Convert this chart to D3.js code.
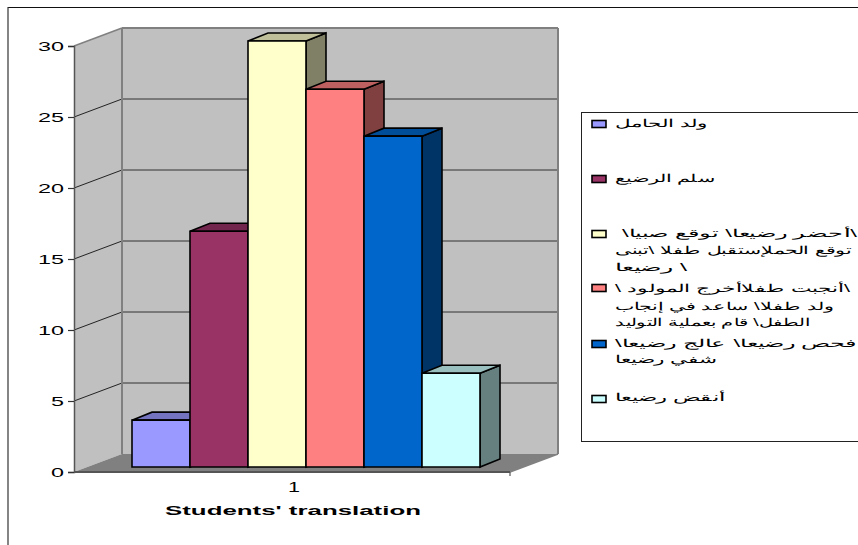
<!DOCTYPE html>
<html><head><meta charset="utf-8">
<style>html,body{margin:0;background:#fff}svg{display:block}text{font-family:"Liberation Sans",Arial,sans-serif;fill:#000}</style>
<script src="https://cdn.jsdelivr.net/npm/d3@7"></script></head>
<body><svg id="c" width="858" height="545"></svg>
<script>
const seriesIds = ["a","b","c","d","e","f"];
const seriesValues = [3.3, 16.6, 30, 26.6, 23.3, 6.6];
const seriesColors = ["#9999FF","#993366","#FFFFCC","#FF8080","#0066CC","#CCFFFF"];
const yTicks = [0,5,10,15,20,25,30];
const xTickLabel = "1";
const xTitle = "Students' translation";
const legendLines = [
  ["ولد الحامل"],
  ["سلم الرضيع"],
  ["\\أحضر رضيعا\\ توقع صبيا\\","توقع الحملإستقبل طفلا \\تبنى","\\ رضيعا"],
  ["\\أنجبت طفلاأخرج المولود \\","ولد طفلا\\ ساعد في إنجاب","الطفل\\ قام بعملية التوليد"],
  ["فحص رضيعا\\ عالج رضيعا\\","شفي رضيعا"],
  ["أنقض رضيعا"]
];

// layout (separate from data)
const plot = {left:74, right:510, y0:472, y30:46, dx:48, dy:-18};
const barPlane = {dx:13, dy:-5, depthX:20, depthY:-8, x0:132, x1:480};
const legendBox = {x:581.5, y:112.5, w:290, h:329};
const swatchY = [124,179,234,288,344,399];
const lineBoxes = [
  [[615,707,123]],
  [[615,715,178]],
  [[622,857,233],[615,852,250],[615,687,267]],
  [[615,850,288],[615,833,306],[615,810,322]],
  [[615,856,343],[615,717,359]],
  [[615,725,397]]
];

const svg = d3.select("#c");
const y = d3.scaleLinear().domain([0,30]).range([plot.y0, plot.y30]);
const x = d3.scaleBand().domain(seriesIds).range([barPlane.x0, barPlane.x1]);
const line = d3.line();
const poly = (pts,fill,stroke,sw) => svg.append("path").attr("d",line(pts)+"Z")
  .attr("fill",fill).attr("stroke",stroke||"none").attr("stroke-width",sw||0).attr("stroke-linejoin","miter");
const seg = (x1,y1,x2,y2,c,w) => svg.append("line").attr("x1",x1).attr("y1",y1).attr("x2",x2).attr("y2",y2)
  .attr("stroke",c).attr("stroke-width",w);

// outer frame
seg(8,7.5,858,7.5,"#111",1.2);
seg(8,7,8,545,"#333",1.2);

// walls and floor
const backL = plot.left+plot.dx, backR = plot.right+plot.dx+0;
const wallTop = y(30)+plot.dy, wallBot = y(0)+plot.dy;
poly([[plot.left,y(30)],[backL,wallTop],[backL,wallBot],[plot.left,y(0)]],"#C0C0C0");
poly([[backL,wallTop],[backR,wallTop],[backR,wallBot],[backL,wallBot]],"#C0C0C0");
poly([[plot.left,y(0)],[backL,wallBot],[backR,wallBot],[plot.right,y(0)]],"#808080");

// gridlines
yTicks.filter(v=>v>0&&v<30).forEach(v=>{
  seg(plot.left,y(v),backL,y(v)+plot.dy,"#111",0.9);
  seg(backL,y(v)+plot.dy,backR,y(v)+plot.dy,"#222",0.9);
});
seg(backL,wallTop,backR,wallTop,"#808080",2);
seg(backL,wallTop,backL,wallBot,"#808080",2);
seg(backR,wallTop,backR,wallBot,"#808080",2);
seg(plot.left,y(30),backL,wallTop,"#808080",1.5);
seg(backR,wallBot,plot.right,y(0),"#808080",1.5);

// bars
seriesIds.forEach((id,i)=>{
  const v = seriesValues[i], c = d3.rgb(seriesColors[i]);
  const xl = x(id), xr = xl+x.bandwidth();
  const yt = y(v)+barPlane.dy, yb = y(0)+barPlane.dy;
  const dx = barPlane.depthX, dy = barPlane.depthY;
  const shade = k => d3.rgb(c.r*k,c.g*k,c.b*k).formatHex();
  poly([[xr,yt],[xr+dx,yt+dy],[xr+dx,yb+dy],[xr,yb]],shade(0.5),"#000",1.6);
  poly([[xl,yt],[xl+dx,yt+dy],[xr+dx,yt+dy],[xr,yt]],shade(0.75),"#000",1.6);
  poly([[xl,yt],[xr,yt],[xr,yb],[xl,yb]],seriesColors[i],"#000",1.6);
});

// axes
seg(plot.left,y(0),plot.right,y(0),"#555",2);
const yAxis = svg.append("g").attr("transform",`translate(${plot.left},0)`)
  .call(d3.axisLeft(y).tickValues(yTicks).tickSize(6).tickPadding(4));
yAxis.select(".domain").attr("stroke","#555").attr("stroke-width",1.5);
yAxis.selectAll(".tick line").attr("stroke","#333").attr("stroke-width",1.2);
yAxis.selectAll("text").style("font-family",'"Liberation Sans",Arial,sans-serif').style("font-size","13.5px")
  .attr("fill","#000").attr("lengthAdjust","spacingAndGlyphs")
  .attr("textLength",d=>d>=10?26:13);
seg(plot.right,y(0),plot.right,y(0)+4,"#555",1.2);

svg.append("text").attr("x",294).attr("y",492).attr("text-anchor","middle").attr("font-size",14)
  .attr("textLength",12).attr("lengthAdjust","spacingAndGlyphs").text(xTickLabel);
svg.append("text").attr("x",293).attr("y",515).attr("text-anchor","middle").attr("font-size",13.5)
  .attr("font-weight","bold").attr("textLength",256).attr("lengthAdjust","spacingAndGlyphs").text(xTitle);

// legend
svg.append("rect").attr("x",legendBox.x).attr("y",legendBox.y).attr("width",legendBox.w).attr("height",legendBox.h)
  .attr("fill","#fff").attr("stroke","#222").attr("stroke-width",1);
seriesIds.forEach((id,i)=>{
  svg.append("rect").attr("x",592).attr("y",swatchY[i]-3.5).attr("width",14).attr("height",7)
    .attr("fill",seriesColors[i]).attr("stroke","#000").attr("stroke-width",1.6);
  legendLines[i].forEach((t,j)=>{
    const [a,b,cy] = lineBoxes[i][j];
    svg.append("text").attr("x",b).attr("y",cy+4).attr("direction","rtl").style("direction","rtl")
      .attr("text-anchor","start").attr("font-size",11)
      .attr("textLength",b-a).attr("lengthAdjust","spacingAndGlyphs").text(t);
  });
});
</script></body></html>
